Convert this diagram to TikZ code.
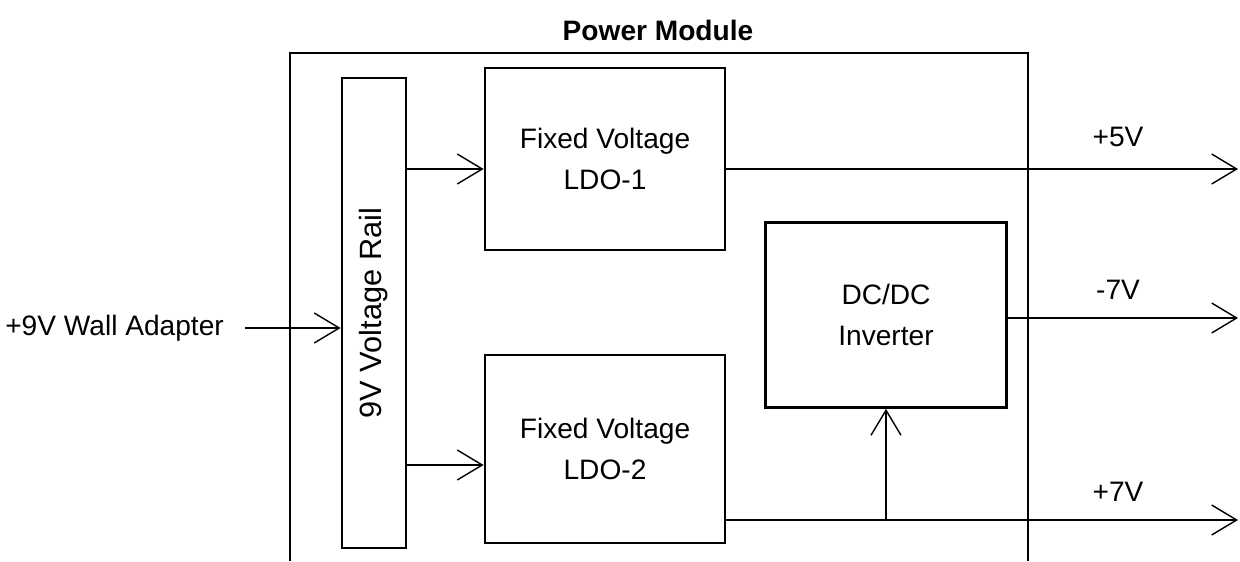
\documentclass[tikz,border=0pt]{standalone}
\usepackage{fontspec}
\setmainfont{Liberation Sans}
\usetikzlibrary{positioning, arrows.meta}

\begin{document}
\begin{tikzpicture}[x=0.02cm, y=-0.02cm, >={Straight Barb[length=5mm, width=6mm]},
          font=\fontsize{16}{19}\selectfont,
          block/.style={draw, line width=1.6pt, rectangle, align=center, inner sep=0pt},
          wire/.style={line width=0.8pt}
        ]
        \useasboundingbox (0,0) rectangle (1240,561);
        \node[font=\fontsize{16}{19}\selectfont\bfseries] (title) at (658,30) {Power Module};
        \draw[line width=1.6pt] (290,561) -- (290,53) -- (1028,53) -- (1028,561);

        \node[block, minimum width=1.28cm, minimum height=9.4cm] (rail) at (374,313)
          {\rotatebox{90}{\fontsize{17.5}{20}\selectfont 9V Voltage Rail}};
        \node[block, minimum width=4.8cm, minimum height=3.64cm] (ldoa) at (605,159)
          {Fixed Voltage\\[4pt] LDO-1};
        \node[block, minimum width=4.8cm, minimum height=3.76cm] (ldob) at (605,449)
          {Fixed Voltage\\[4pt] LDO-2};
        \node[block, minimum width=4.82cm, minimum height=3.7cm] (dcdc) at (886,315)
          {DC/DC\\[4pt] Inverter};

        \node[anchor=east] (wall) at (230,328) {+9V Wall Adapter};
        \coordinate (win)  at (245,328);
        \coordinate (outa) at (1238,169);
        \coordinate (outb) at (1238,318);
        \coordinate (outc) at (1238,520);

        \node (vfive)  at (1118,137) {+5V};
        \node (vneg)   at (1118,290) {-7V};
        \node (vseven) at (1118,492) {+7V};

        \draw[wire, ->] (win) -- (win -| rail.west);
        \draw[wire, ->] (rail.east |- outa) -- (ldoa.west |- outa);
        \draw[wire, ->] (rail.east |- 0,465) -- (ldob.west |- 0,465);
        \draw[wire, ->] (ldoa.east |- outa) -- (outa);
        \draw[wire, ->] (dcdc.east |- outb) -- (outb);
        \draw[wire, ->] (ldob.east |- outc) -- (outc);
        \coordinate (tap) at (dcdc.south |- outc);
        \draw[wire, ->] (tap) -- (dcdc.south);
\end{tikzpicture}
\end{document}
